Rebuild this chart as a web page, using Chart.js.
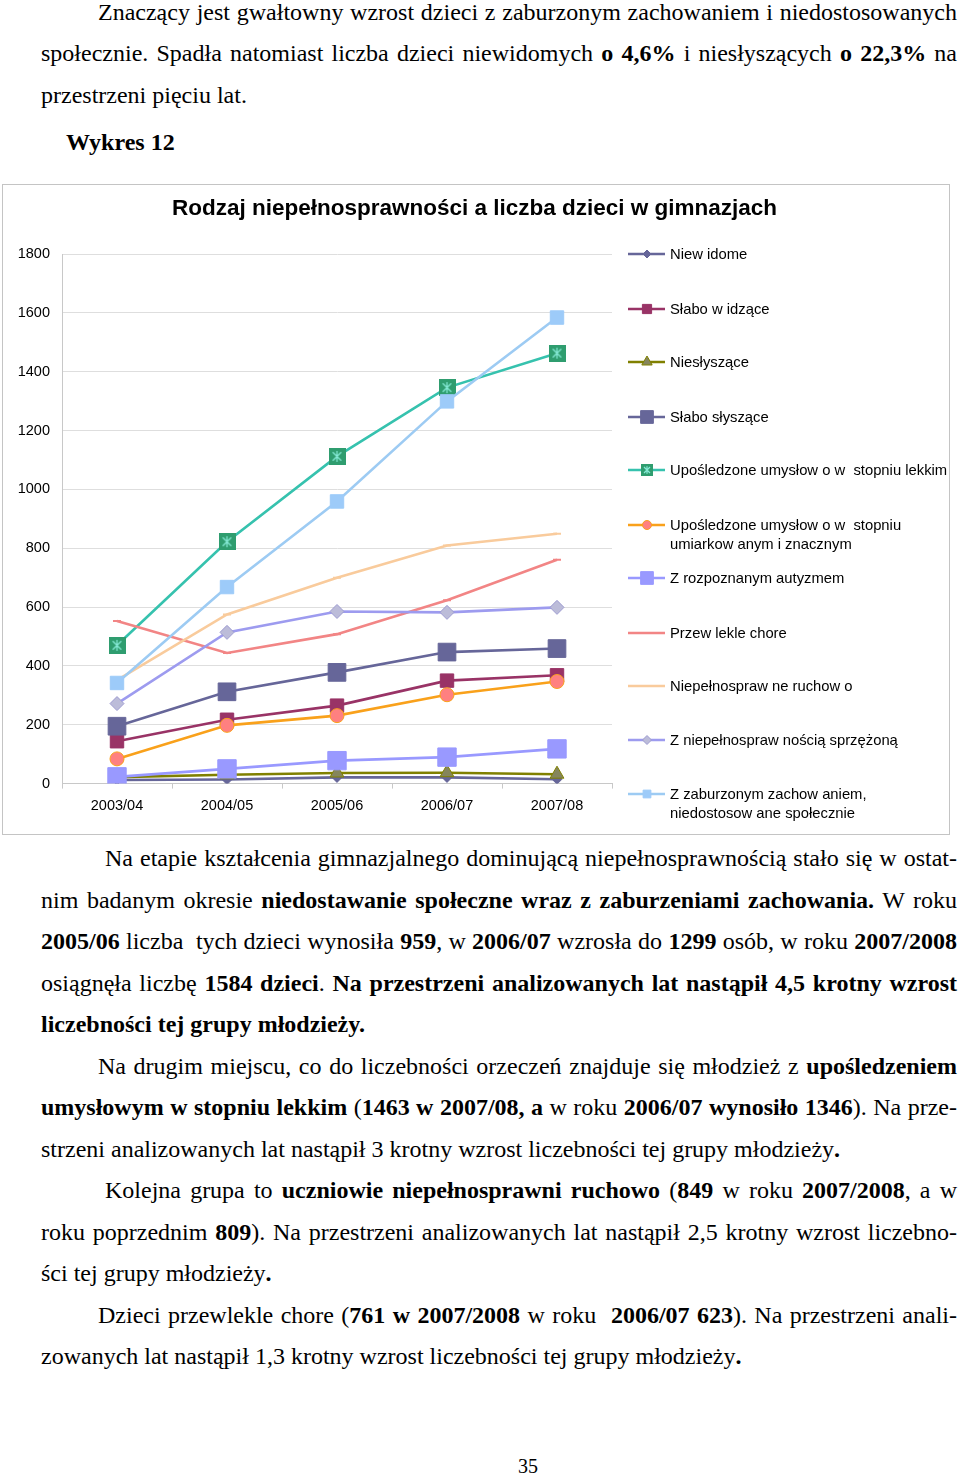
<!DOCTYPE html>
<html lang="pl">
<head>
<meta charset="utf-8">
<title>Wykres 12</title>
<script src="https://cdn.jsdelivr.net/npm/chart.js@4.4.1/dist/chart.umd.min.js"></script>
<style>
  html, body { margin: 0; padding: 0; background: #fff; }
  body { width: 960px; height: 1477px; position: relative; overflow: hidden; }
  .ln { position: absolute; white-space: pre; font-family: "Liberation Serif", "Times New Roman", serif;
        font-size: 24px; line-height: 40px; height: 40px; color: #000; }
  #box { position: absolute; left: 2px; top: 184px; width: 946px; height: 649px; border: 1px solid #c4c4c4; }
  .lg { position: absolute; left: 670px; font-family: Arial, "Liberation Sans", sans-serif; font-size: 14.8px;
        line-height: 19px; color: #000; white-space: pre; }
  .lgs { position: absolute; left: 626px; }
</style>
</head>
<body>
<div id="box"><canvas id="chart"></canvas></div>
<div id="legend"></div>
<script>
// Wykres 12 - Rodzaj niepełnosprawności a liczba dzieci w gimnazjach

const years = ['2003/04', '2004/05', '2005/06', '2006/07', '2007/08'];

const niewidome     = [12, 14, 21, 21, 15];
const slaboWidzace  = [144, 217, 265, 350, 368];
const nieslyszace   = [22, 30, 36, 37, 32];
const slaboSlyszace = [195, 312, 378, 447, 459];
const lekkim        = [470, 822, 1112, 1346, 1463];
const umiarkowanym  = [84, 198, 231, 302, 347];
const autyzm        = [23, 50, 78, 90, 118];
const przewlekle    = [553, 444, 508, 623, 761];
const ruchowo       = [352, 575, 700, 809, 849];
const sprzezona     = [272, 514, 585, 582, 599];
const zaburzone     = [342, 668, 959, 1299, 1584];

const seriesLabels = [
    'Niew idome',
    'Słabo w idzące',
    'Niesłyszące',
    'Słabo słyszące',
    'Upośledzone umysłow o w  stopniu lekkim',
    'Upośledzone umysłow o w  stopniu\numiarkow anym i znacznym',
    'Z rozpoznanym autyzmem',
    'Przew lekle chore',
    'Niepełnospraw ne ruchow o',
    'Z niepełnospraw nością sprzężoną',
    'Z zaburzonym zachow aniem,\nniedostosow ane społecznie'
];
const seriesValues = [niewidome, slaboWidzace, nieslyszace, slaboSlyszace, lekkim,
    umiarkowanym, autyzm, przewlekle, ruchowo, sprzezona, zaburzone];

const chartTitle = 'Rodzaj niepełnosprawności a liczba dzieci w gimnazjach';
const yTicks = { min: 0, max: 1800, step: 200 };

// green square marker with an asterisk, as in the Excel original
function starSquare(size) {
    const c = document.createElement('canvas');
    c.width = size; c.height = size;
    const g = c.getContext('2d');
    g.fillStyle = '#2f9d6f';
    g.fillRect(0, 0, size, size);
    g.strokeStyle = '#86ead6';
    g.lineWidth = 1.2;
    g.beginPath();
    const a = size * 0.25, b = size * 0.75;
    g.moveTo(a, a); g.lineTo(b, b);
    g.moveTo(b, a); g.lineTo(a, b);
    g.moveTo(size / 2, size * 0.18); g.lineTo(size / 2, size * 0.82);
    g.stroke();
    return c;
}

const styles = [
    { line: '#666699', style: 'rectRot', r: 5, lr: 4, fill: '#666699', edge: '#666699' },
    { line: '#993366', style: 'rect', r: 9.5, lr: 6.5, fill: '#993366', edge: '#993366' },
    { line: '#808000', style: 'triangle', r: 8, lr: 6, fill: '#85855c', edge: '#808000' },
    { line: '#666699', style: 'rect', r: 12.5, lr: 9, fill: '#666699', edge: '#666699' },
    { line: '#36c2ae', style: starSquare(17), legendImg: starSquare(12), fill: '#2f9d6f', edge: '#2f9d6f' },
    { line: '#f9a11b', style: 'circle', r: 7, lr: 4.5, fill: '#ff8080', edge: '#f9a11b' },
    { line: '#9999ff', style: 'rect', r: 13, lr: 9, fill: '#9999ff', edge: '#9999ff' },
    { line: '#f28585', style: 'line', r: 4, lr: 3, fill: '#f28585', edge: '#f28585' },
    { line: '#f9cb9c', style: 'line', r: 4, lr: 3, fill: '#f9cb9c', edge: '#f9cb9c' },
    { line: '#9d9bef', style: 'rectRot', r: 7, lr: 4.5, fill: '#bcbcd9', edge: '#9d9bd0' },
    { line: '#9dcbf3', style: 'rect', r: 9.5, lr: 5.5, fill: '#9dcbf9', edge: '#9dcbf9' }
];

const legendRows = [254, 309, 362, 417, 470, 525, 578, 633, 686, 740, 794];

const datasets = seriesValues.map((vals, i) => ({
    label: seriesLabels[i].replace('\n', ' '),
    data: vals,
    borderColor: styles[i].line,
    backgroundColor: styles[i].fill,
    borderWidth: 2.6,
    tension: 0,
    pointStyle: styles[i].style,
    pointRadius: styles[i].r || 8,
    pointBackgroundColor: styles[i].fill,
    pointBorderColor: styles[i].edge,
    pointBorderWidth: styles[i].style === 'line' ? 2 : 1,
    order: seriesValues.length - i
}));

// title centred over the whole frame (legend included), like in Excel
const frameTitle = {
    id: 'frameTitle',
    afterDraw(chart) {
        const c = chart.ctx;
        c.save();
        c.font = 'bold 22.5px Arial, "Liberation Sans", sans-serif';
        c.fillStyle = '#000';
        c.textAlign = 'center';
        c.textBaseline = 'middle';
        c.fillText(chartTitle, chart.width / 2 - 1.5, 24);
        c.restore();
    }
};

Chart.defaults.font.family = 'Arial, "Liberation Sans", sans-serif';
Chart.defaults.color = '#000';

new Chart(document.getElementById('chart'), {
    type: 'line',
    data: { labels: years, datasets: datasets },
    plugins: [frameTitle],
    options: {
        responsive: true,
        maintainAspectRatio: false,
        animation: false,
        layout: { padding: { top: 69, right: 337, bottom: 10, left: 0 } },
        plugins: {
            legend: { display: false },
            tooltip: { enabled: false },
            title: { display: false }
        },
        scales: {
            x: {
                offset: true,
                grid: { display: true, drawOnChartArea: false, drawTicks: true, tickLength: 5, offset: true, color: '#c8c8c8' },
                border: { color: '#c8c8c8' },
                ticks: { font: { size: 14.5 }, padding: 9, maxRotation: 0 }
            },
            y: {
                min: yTicks.min,
                max: yTicks.max,
                grid: { color: '#dedede', drawTicks: false },
                border: { color: '#c8c8c8' },
                ticks: { stepSize: yTicks.step, font: { size: 14.5 }, padding: 12, callback: (v) => String(v) },
                afterFit: (scale) => { scale.width = 59; }
            }
        }
    }
});

// legend (HTML so that the two-line labels wrap as in the original)
const legend = document.getElementById('legend');
styles.forEach((s, i) => {
    const y = legendRows[i];
    const cv = document.createElement('canvas');
    cv.width = 42; cv.height = 18;
    cv.className = 'lgs';
    cv.style.top = (y - 9) + 'px';
    const g = cv.getContext('2d');
    g.strokeStyle = s.line;
    g.lineWidth = 2.4;
    g.beginPath(); g.moveTo(2, 9); g.lineTo(39, 9); g.stroke();
    if (s.legendImg) {
        g.drawImage(s.legendImg, 21 - 6, 9 - 6);
    } else {
        g.fillStyle = s.fill;
        g.strokeStyle = s.edge;
        g.lineWidth = s.style === 'line' ? 2 : 1;
        Chart.helpers.drawPoint(g, { pointStyle: s.style, radius: s.lr, borderWidth: g.lineWidth, rotation: 0 }, 21, 9);
    }
    legend.appendChild(cv);

    const t = document.createElement('div');
    t.className = 'lg';
    t.style.top = (y - 9.5) + 'px';
    t.textContent = seriesLabels[i];
    legend.appendChild(t);
});

// page text, one justified row at a time
const LINE_RIGHT = 957;
const textRows = [
    { y: 12, x: 98, j: true, h: 'Znaczący jest gwałtowny wzrost dzieci z zaburzonym zachowaniem i niedostosowanych' },
    { y: 53, x: 41, j: true, h: 'społecznie. Spadła natomiast liczba dzieci niewidomych <b>o 4,6%</b> i niesłyszących <b>o 22,3%</b> na' },
    { y: 95, x: 41, j: false, h: 'przestrzeni pięciu lat.' },
    { y: 142, x: 66, j: false, h: '<b>Wykres 12</b>' },
    { y: 858, x: 105, j: true, h: 'Na etapie kształcenia gimnazjalnego dominującą niepełnosprawnością stało się w ostat-' },
    { y: 899.5, x: 41, j: true, h: 'nim badanym okresie <b>niedostawanie społeczne wraz z zaburzeniami zachowania.</b> W roku' },
    { y: 941, x: 41, j: true, h: '<b>2005/06</b> liczba  tych dzieci wynosiła <b>959</b>, w <b>2006/07</b> wzrosła do <b>1299</b> osób, w roku <b>2007/2008</b>' },
    { y: 982.5, x: 41, j: true, h: 'osiągnęła liczbę <b>1584 dzieci</b>. <b>Na przestrzeni analizowanych lat nastąpił 4,5 krotny wzrost</b>' },
    { y: 1024, x: 41, j: false, h: '<b>liczebności tej grupy młodzieży.</b>' },
    { y: 1065.5, x: 98, j: true, h: 'Na drugim miejscu, co do liczebności orzeczeń znajduje się młodzież z <b>upośledzeniem</b>' },
    { y: 1107, x: 41, j: true, h: '<b>umysłowym w stopniu lekkim</b> (<b>1463 w 2007/08, a</b> w roku <b>2006/07 wynosiło 1346</b>). Na prze-' },
    { y: 1148.5, x: 41, j: false, h: 'strzeni analizowanych lat nastąpił 3 krotny wzrost liczebności tej grupy młodzieży<b>.</b>' },
    { y: 1190, x: 105, j: true, h: 'Kolejna grupa to <b>uczniowie niepełnosprawni ruchowo</b> (<b>849</b> w roku <b>2007/2008</b>, a w' },
    { y: 1231.5, x: 41, j: true, h: 'roku poprzednim <b>809</b>). Na przestrzeni analizowanych lat nastąpił 2,5 krotny wzrost liczebno-' },
    { y: 1273, x: 41, j: false, h: 'ści tej grupy młodzieży<b>.</b>' },
    { y: 1314.5, x: 98, j: true, h: 'Dzieci przewlekle chore (<b>761 w 2007/2008</b> w roku  <b>2006/07 623</b>). Na przestrzeni anali-' },
    { y: 1356, x: 41, j: false, h: 'zowanych lat nastąpił 1,3 krotny wzrost liczebności tej grupy młodzieży<b>.</b>' }
];

textRows.forEach(r => {
    const d = document.createElement('div');
    d.className = 'ln';
    d.style.left = r.x + 'px';
    d.style.top = (r.y - 20) + 'px';
    d.innerHTML = r.h;
    document.body.appendChild(d);
    if (r.j) {
        const w = d.getBoundingClientRect().width;
        const n = (d.textContent.match(/ /g) || []).length;
        if (n > 0) d.style.wordSpacing = ((LINE_RIGHT - r.x - w) / n) + 'px';
    }
});

const pageNo = document.createElement('div');
pageNo.className = 'ln';
pageNo.style.fontSize = '20px';
pageNo.style.left = '518px';
pageNo.style.top = (1466 - 20) + 'px';
pageNo.textContent = '35';
document.body.appendChild(pageNo);
</script>
</body>
</html>
